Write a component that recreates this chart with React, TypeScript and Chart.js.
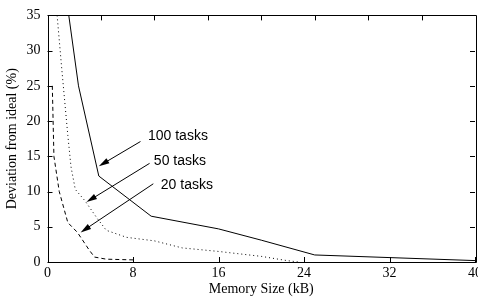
import React, { useEffect, useRef } from "react";
import { Chart, registerables } from "chart.js";

Chart.register(...registerables);

const seriesNames = ["100 tasks", "50 tasks", "20 tasks"];

const tasks100X = [1.9, 2.9, 4.8, 9.7, 16, 20, 25, 40];
const tasks100Y = [36, 25, 12.2, 6.5, 4.7, 3.1, 1.0, 0.2];

const tasks50X = [0.9, 1.3, 1.9, 2.2, 2.6, 3.5, 4.6, 5.5, 7.4, 10, 12.6, 16, 20, 22.4, 23.5];
const tasks50Y = [35, 28, 18, 13.5, 10.3, 8.7, 6.3, 4.5, 3.5, 3.0, 2.0, 1.5, 0.8, 0.2, 0];

const tasks20X = [0.45, 0.6, 1.1, 1.9, 2.8, 3.9, 4.4, 5.5, 8];
const tasks20Y = [25, 15, 10, 5.6, 4.2, 1.7, 0.7, 0.4, 0.3];

const xTicks = [0, 8, 16, 24, 32, 40];
const yTicks = [0, 5, 10, 15, 20, 25, 30, 35];
const topTicks = [5, 10, 15, 20, 25, 30, 35];

// annotation arrows: label position, arrow start, arrow tip (data units)
const labelX = [9.4, 9.95, 10.6];
const labelY = [17.8, 14.3, 10.9];
const arrowFromX = [8.7, 9.55, 9.9];
const arrowFromY = [17.1, 14.0, 11.1];
const arrowToX = [4.8, 3.65, 3.1];
const arrowToY = [13.6, 8.5, 4.2];

const toPts = (xs: number[], ys: number[]) => xs.map((x, i) => ({ x, y: ys[i] }));

const SERIF = '"Liberation Serif", "Times New Roman", Times, serif';
Chart.defaults.font.family = SERIF;

const framePlugin = {
  id: "frameTicks",
  afterDatasetsDraw(chart: any) {
    const ctx = chart.ctx;
    const { left, right, top, bottom } = chart.chartArea;
    const xs = chart.scales.x;
    const ys = chart.scales.y;
    ctx.save();
    ctx.strokeStyle = "#000";
    ctx.lineWidth = 1;
    ctx.beginPath();
    ctx.rect(Math.round(left) + 0.5, Math.round(top) + 0.5, Math.round(right - left), Math.round(bottom - top));
    ctx.stroke();
    const tl = 5;
    ctx.beginPath();
    xTicks.forEach((v) => {
      const px = Math.round(xs.getPixelForValue(v)) + 0.5;
      ctx.moveTo(px, bottom);
      ctx.lineTo(px, bottom - tl);
    });
    topTicks.forEach((v) => {
      const px = Math.round(xs.getPixelForValue(v)) + 0.5;
      ctx.moveTo(px, top);
      ctx.lineTo(px, top + tl);
    });
    yTicks.forEach((v) => {
      const py = Math.round(ys.getPixelForValue(v)) + 0.5;
      ctx.moveTo(left, py);
      ctx.lineTo(left + tl, py);
      ctx.moveTo(right, py);
      ctx.lineTo(right - tl, py);
    });
    ctx.stroke();

    // arrows + labels
    ctx.fillStyle = "#000";
    ctx.font = '14px "Liberation Sans", Arial, sans-serif';
    ctx.textAlign = "left";
    ctx.textBaseline = "middle";
    seriesNames.forEach((name, i) => {
      const x0 = xs.getPixelForValue(arrowFromX[i]);
      const y0 = ys.getPixelForValue(arrowFromY[i]);
      const x1 = xs.getPixelForValue(arrowToX[i]);
      const y1 = ys.getPixelForValue(arrowToY[i]);
      const ang = Math.atan2(y1 - y0, x1 - x0);
      const hl = 11;
      const ha = 0.27;
      ctx.beginPath();
      ctx.moveTo(x0, y0);
      ctx.lineTo(x1 - Math.cos(ang) * hl * 0.8, y1 - Math.sin(ang) * hl * 0.8);
      ctx.stroke();
      ctx.beginPath();
      ctx.moveTo(x1, y1);
      ctx.lineTo(x1 - hl * Math.cos(ang - ha), y1 - hl * Math.sin(ang - ha));
      ctx.lineTo(x1 - hl * Math.cos(ang + ha), y1 - hl * Math.sin(ang + ha));
      ctx.closePath();
      ctx.fill();
      ctx.fillText(name, xs.getPixelForValue(labelX[i]), ys.getPixelForValue(labelY[i]));
    });
    ctx.restore();
  },
};

export default function App() {
  const ref = useRef<HTMLCanvasElement>(null);
  useEffect(() => {
    if (!ref.current) return;
    const chart = new Chart(ref.current, {
      type: "line",
      data: {
        datasets: [
          {
            label: seriesNames[0],
            data: toPts(tasks100X, tasks100Y),
            borderColor: "#000",
            borderWidth: 1,
            pointRadius: 0,
            tension: 0,
          },
          {
            label: seriesNames[1],
            data: toPts(tasks50X, tasks50Y),
            borderColor: "#000",
            borderWidth: 1,
            borderDash: [1, 3],
            pointRadius: 0,
            tension: 0,
          },
          {
            label: seriesNames[2],
            data: toPts(tasks20X, tasks20Y),
            borderColor: "#000",
            borderWidth: 1,
            borderDash: [4, 3],
            pointRadius: 0,
            tension: 0,
          },
        ],
      },
      options: {
        animation: false,
        responsive: false,
        devicePixelRatio: 1,
        layout: { autoPadding: false, padding: { top: 11.5, right: 15, left: 0, bottom: 0 } } as any,
        plugins: { legend: { display: false }, tooltip: { enabled: false } },
        scales: {
          x: {
            type: "linear",
            min: 0,
            max: 40,
            afterBuildTicks: (s: any) => {
              s.ticks = xTicks.map((v) => ({ value: v }));
            },
            afterFit: (s: any) => {
              s.height = 39;
            },
            grid: { display: false, drawTicks: false },
            border: { display: false },
            ticks: { color: "#000", font: { family: SERIF, size: 14 }, padding: 3, maxRotation: 0, autoSkip: false },
            title: {
              display: true,
              text: "Memory Size (kB)",
              color: "#000",
              font: { family: SERIF, size: 14 },
              padding: { top: 0, bottom: 3 },
            },
          },
          y: {
            type: "linear",
            min: 0,
            max: 35,
            afterBuildTicks: (s: any) => {
              s.ticks = yTicks.map((v) => ({ value: v }));
            },
            afterFit: (s: any) => {
              s.width = 47.5;
            },
            grid: { display: false, drawTicks: false },
            border: { display: false },
            ticks: { color: "#000", font: { family: SERIF, size: 14 }, padding: 7 },
            title: {
              display: true,
              text: "Deviation from ideal (%)",
              color: "#000",
              font: { family: SERIF, size: 14 },
              padding: { top: 4, bottom: 0 },
            },
          },
        },
      },
      plugins: [framePlugin],
    });
    return () => chart.destroy();
  }, []);
  return (
    <div style={{ position: "absolute", left: 0, top: 0, width: 478, height: 301, overflow: "hidden", background: "#fff" }}>
      <canvas ref={ref} width={490} height={301} style={{ display: "block" }} />
    </div>
  );
}
